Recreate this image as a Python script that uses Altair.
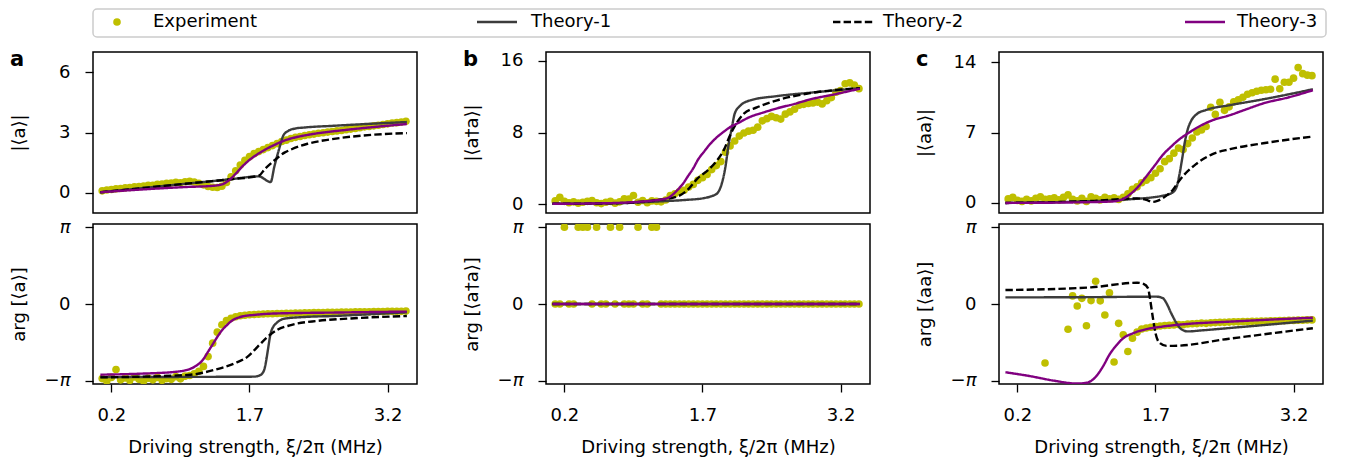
import math
import altair as alt
import pandas as pd

PI = math.pi

# ---------------- data ----------------
SERIES = ["Experiment", "Theory-1", "Theory-2", "Theory-3"]
COLORS = ["#bfbf00", "#3c3c3c", "#000000", "#800080"]
DASHES = [[1, 0], [1, 0], [7.4, 3.2], [1, 0]]

EXP_X = [0.10, 0.15, 0.20, 0.25, 0.30, 0.35, 0.40, 0.45, 0.50, 0.55,
         0.60, 0.65, 0.70, 0.75, 0.80, 0.85, 0.90, 0.95, 1.00, 1.05,
         1.10, 1.15, 1.20, 1.25, 1.30, 1.35, 1.40, 1.45, 1.50, 1.55,
         1.60, 1.65, 1.70, 1.75, 1.80, 1.85, 1.90, 1.95, 2.00, 2.05,
         2.10, 2.15, 2.20, 2.25, 2.30, 2.35, 2.40, 2.45, 2.50, 2.55,
         2.60, 2.65, 2.70, 2.75, 2.80, 2.85, 2.90, 2.95, 3.00, 3.05,
         3.10, 3.15, 3.20, 3.25, 3.30, 3.35, 3.40]

# panel a : |<a>| and arg[<a>]
A_AMP_EXP = [0.10, 0.14, 0.17, 0.20, 0.22, 0.25, 0.27, 0.30, 0.31, 0.34,
             0.37, 0.38, 0.42, 0.44, 0.47, 0.49, 0.52, 0.50, 0.55, 0.57,
             0.54, 0.48, 0.40, 0.32, 0.28, 0.27, 0.33, 0.52, 0.80, 1.10,
             1.38, 1.62, 1.80, 1.95, 2.05, 2.15, 2.25, 2.35, 2.45, 2.55,
             2.62, 2.70, 2.76, 2.80, 2.85, 2.89, 2.92, 2.96, 2.99, 3.02,
             3.05, 3.08, 3.10, 3.14, 3.17, 3.20, 3.24, 3.28, 3.30, 3.33,
             3.36, 3.40, 3.43, 3.47, 3.49, 3.52, 3.56]
A_PH_EXP = [-3.05, -3.15, -3.00, -2.68, -3.10, -3.02, -3.12, -2.98, -3.08, -3.15,
            -3.03, -3.10, -3.00, -3.12, -3.05, -3.08, -2.97, -3.06, -2.95, -2.92,
            -2.85, -2.75, -2.55, -2.15, -1.60, -1.15, -0.85, -0.68, -0.58, -0.52,
            -0.48, -0.46, -0.44, -0.43, -0.42, -0.41, -0.40, -0.40, -0.39, -0.39,
            -0.38, -0.38, -0.37, -0.37, -0.36, -0.36, -0.35, -0.35, -0.35, -0.34,
            -0.34, -0.34, -0.33, -0.33, -0.33, -0.32, -0.32, -0.32, -0.32, -0.31,
            -0.31, -0.31, -0.30, -0.30, -0.30, -0.30, -0.29]

A_AMP_T1_X = [0.08, 0.5, 1.0, 1.5, 1.8, 1.93, 1.97, 2.02, 2.07, 2.12, 2.2, 2.3, 2.6, 3.0, 3.41]
A_AMP_T1_Y = [0.03, 0.22, 0.45, 0.68, 0.82, 0.54, 1.30, 2.15, 2.87, 3.08, 3.20, 3.25, 3.33, 3.43, 3.52]
A_AMP_T2_X = [0.08, 1.0, 1.5, 1.8, 1.87, 1.98, 2.08, 2.15, 2.33, 2.5, 2.69, 3.05, 3.41]
A_AMP_T2_Y = [0.03, 0.45, 0.68, 0.85, 1.2, 1.65, 2.0, 2.15, 2.44, 2.6, 2.73, 2.89, 2.97]
A_AMP_T3_X = [0.08, 0.5, 1.0, 1.3, 1.4, 1.47, 1.55, 1.62, 1.69, 1.78, 1.87, 1.97, 2.08, 2.2, 2.33, 2.5, 2.69, 3.0, 3.41]
A_AMP_T3_Y = [0.03, 0.16, 0.29, 0.35, 0.42, 0.6, 0.95, 1.3, 1.6, 1.9, 2.15, 2.38, 2.6, 2.76, 2.88, 3.0, 3.1, 3.25, 3.42]

A_PH_T1_X = [0.08, 1.0, 1.75, 1.82, 1.86, 1.88, 1.90, 1.93, 1.96, 1.99, 2.08, 2.3, 2.62, 3.0, 3.41]
A_PH_T1_Y = [-2.99, -2.98, -2.97, -2.90, -2.69, -2.35, -1.88, -1.20, -0.92, -0.79, -0.60, -0.53, -0.49, -0.42, -0.34]
A_PH_T2_X = [0.08, 1.03, 1.32, 1.54, 1.68, 1.79, 1.9, 2.0, 2.15, 2.44, 2.8, 3.41]
A_PH_T2_Y = [-3.0, -2.9, -2.69, -2.42, -2.15, -1.74, -1.33, -1.06, -0.86, -0.69, -0.59, -0.49]
A_PH_T3_X = [0.08, 0.5, 0.9, 1.05, 1.13, 1.19, 1.25, 1.30, 1.35, 1.40, 1.45, 1.51, 1.61, 1.77, 1.9, 2.2, 2.62, 3.0, 3.41]
A_PH_T3_Y = [-2.89, -2.85, -2.77, -2.66, -2.5, -2.3, -1.95, -1.65, -1.35, -1.08, -0.88, -0.68, -0.52, -0.44, -0.4, -0.37, -0.35, -0.33, -0.31]

# panel b : |<a†a>| and arg[<a†a>]
B_AMP_EXP = [0.35, 0.75, 0.30, 0.15, 0.25, 0.10, 0.20, 0.30, 0.40, 0.15,
             0.05, 0.20, 0.30, 0.10, 0.25, 0.60, 0.55, 0.95, 0.20, 0.40,
             0.15, 0.35, 0.30, 0.25, 0.45, 0.95, 1.15, 1.40, 1.55, 1.90,
             2.20, 2.65, 2.95, 3.30, 3.85, 4.30, 4.75, 5.80, 6.50, 7.05,
             7.60, 7.95, 8.15, 8.25, 8.60, 9.30, 9.55, 9.80, 9.65, 9.50,
             10.05, 10.30, 10.60, 11.05, 11.15, 11.25, 11.30, 11.40, 11.20, 11.55,
             11.90, 12.50, 12.70, 13.45, 13.55, 13.30, 12.90]
B_PH_EXP = [0, 0, PI, 0, 0, PI, PI, PI, 0, PI,
            0, 0, PI, 0, PI, 0, 0, 0, PI, 0,
            0, PI, PI, 0, 0, 0, 0, 0, 0, 0,
            0, 0, 0, 0, 0, 0, 0, 0, 0, 0,
            0, 0, 0, 0, 0, 0, 0, 0, 0, 0,
            0, 0, 0, 0, 0, 0, 0, 0, 0, 0,
            0, 0, 0, 0, 0, 0, 0]

B_AMP_T1_X = [0.07, 0.8, 1.24, 1.5, 1.72, 1.79, 1.86, 1.91, 1.95, 1.98, 2.02, 2.05, 2.11, 2.22, 2.51, 2.87, 3.41]
B_AMP_T1_Y = [0.03, 0.1, 0.3, 0.45, 0.67, 0.85, 1.2, 2.3, 4.2, 6.4, 8.6, 10.1, 11.0, 11.6, 12.07, 12.45, 12.95]
B_AMP_T2_X = [0.07, 0.8, 1.17, 1.43, 1.54, 1.65, 1.76, 1.86, 1.93, 2.0, 2.08, 2.15, 2.29, 2.51, 2.87, 3.41]
B_AMP_T2_Y = [0.03, 0.1, 0.4, 0.85, 1.6, 2.9, 3.8, 4.9, 6.0, 7.7, 9.2, 10.1, 10.8, 11.6, 12.4, 12.95]
B_AMP_T3_X = [0.07, 0.6, 1.0, 1.17, 1.32, 1.43, 1.49, 1.54, 1.6, 1.65, 1.72, 1.79, 1.86, 1.93, 2.0, 2.08, 2.22, 2.35, 2.51, 2.7, 2.87, 3.15, 3.41]
B_AMP_T3_Y = [0.03, 0.08, 0.25, 0.4, 0.67, 1.59, 2.3, 3.08, 4.0, 4.94, 5.9, 6.79, 7.5, 8.08, 8.6, 9.02, 9.76, 10.2, 10.7, 11.2, 11.7, 12.3, 12.9]

B_PH_T_X = [0.07, 3.41]
B_PH_T_Y = [0.0, 0.0]

# panel c : |<aa>| and arg[<aa>]
C_AMP_EXP = [0.40, 0.55, 0.25, 0.15, 0.35, 0.20, 0.45, 0.60, 0.35, 0.40,
             0.50, 0.30, 0.55, 0.80, 0.35, 0.20, 0.45, 0.15, 0.60, 0.45,
             0.30, 0.55, 0.40, 0.50, 0.35, 0.55, 0.90, 1.35, 1.60, 2.00,
             2.25, 2.50, 2.95, 3.40, 4.10, 4.40, 4.95, 5.45, 5.30, 5.90,
             6.45, 7.05, 7.25, 7.60, 9.50, 8.80, 10.00, 9.20, 9.55, 10.05,
             10.25, 10.50, 10.80, 10.95, 11.10, 11.20, 11.25, 11.30, 12.30, 11.35,
             12.00, 12.00, 12.40, 13.45, 12.85, 12.70, 12.65]
C_PH_EXP = [None, None, None, None, None, None, None, None, -2.41, None,
            None, None, None, -1.03, 0.33, -0.08, 0.23, -0.89, 0.14, 0.93,
            0.13, -0.45, 0.46, -2.37, -0.79, -1.26, -1.94, -1.40, -1.15, -1.02,
            -0.98, -0.95, -0.92, -0.90, -0.88, -0.87, -0.86, -0.84, -0.85, -0.82,
            -0.81, -0.80, -0.78, -0.79, -0.77, -0.76, -0.75, -0.75, -0.74, -0.73,
            -0.73, -0.72, -0.72, -0.71, -0.71, -0.70, -0.70, -0.69, -0.69, -0.68,
            -0.68, -0.67, -0.67, -0.66, -0.66, -0.65, -0.65]

C_AMP_T1_X = [0.07, 0.8, 1.4, 1.78, 1.88, 1.93, 1.96, 1.99, 2.02, 2.05, 2.09, 2.15, 2.25, 2.51, 2.87, 3.15, 3.41]
C_AMP_T1_Y = [0.0, 0.12, 0.35, 0.72, 1.0, 1.6, 2.8, 4.4, 6.1, 7.3, 8.2, 8.84, 9.24, 9.72, 10.3, 10.8, 11.3]
C_AMP_T2_X = [0.07, 1.0, 1.5, 1.6, 1.67, 1.72, 1.78, 1.89, 1.96, 2.14, 2.32, 2.51, 2.87, 3.41]
C_AMP_T2_Y = [0.0, 0.2, 0.45, 0.3, 0.1, 0.2, 0.49, 1.32, 2.24, 3.86, 4.85, 5.34, 5.93, 6.6]
C_AMP_T3_X = [0.07, 0.8, 1.24, 1.35, 1.42, 1.51, 1.6, 1.69, 1.78, 1.87, 1.96, 2.05, 2.14, 2.3, 2.51, 2.7, 2.87, 3.15, 3.41]
C_AMP_T3_Y = [0.0, 0.05, 0.15, 0.4, 0.82, 1.6, 2.63, 3.7, 4.78, 5.6, 6.33, 6.9, 7.42, 8.15, 8.73, 9.35, 9.89, 10.5, 11.2]

C_PH_T1_X = [0.07, 1.0, 1.71, 1.78, 1.82, 1.87, 1.93, 1.98, 2.05, 2.2, 2.51, 3.0, 3.41]
C_PH_T1_Y = [0.27, 0.28, 0.30, 0.24, 0.03, -0.37, -0.79, -1.03, -1.12, -1.08, -0.98, -0.82, -0.68]
C_PH_T2_X = [0.07, 1.0, 1.5, 1.57, 1.62, 1.64, 1.67, 1.70, 1.74, 1.82, 1.89, 2.5, 3.0, 3.41]
C_PH_T2_Y = [0.57, 0.68, 0.87, 0.82, 0.64, 0.23, -0.52, -1.19, -1.57, -1.71, -1.71, -1.42, -1.18, -0.99]
C_PH_T3_X = [0.07, 0.34, 0.59, 0.85, 0.95, 1.04, 1.13, 1.2, 1.28, 1.35, 1.46, 1.6, 1.78, 2.0, 2.51, 3.05, 3.41]
C_PH_T3_Y = [-2.79, -2.95, -3.13, -3.25, -3.22, -3.02, -2.55, -2.07, -1.67, -1.4, -1.19, -1.03, -0.92, -0.83, -0.72, -0.62, -0.56]

X_TICKS = [0.2, 1.7, 3.2]
X_TITLE = "Driving strength, ξ/2π (MHz)"
PANEL_LETTERS = ["a", "b", "c"]

# ---------------- style / layout ----------------
FONT = "DejaVu Sans"
FS = 18
W, H_TOP, H_BOT = 324, 161, 160
X_DOMAIN = [0.0, 3.52]
PHASE_DOMAIN = [-3.27, 3.27]
TITLE_X = -65
LETTER_DX, LETTER_DY = -83, 14
MARK_SIZE = 58
LINE_W = 2.4

LEG_W, LEG_H = 1233, 28
LEG_HANDLE0 = [4, 384, 740, 1092]
LEG_HANDLE1 = [44, 424, 780, 1132]
LEG_TEXT_X = [60, 438, 790, 1144]


def make_df(exp_y, curves):
    rows = []
    for xv, yv in zip(EXP_X, exp_y):
        if yv is not None:
            rows.append({"x": xv, "y": yv, "series": "Experiment"})
    for name, xs, ys in curves:
        for xv, yv in zip(xs, ys):
            rows.append({"x": xv, "y": yv, "series": name})
    return pd.DataFrame(rows)


def panel(exp_y, curves, ydomain, yticks, ytitle, bottom, letter=None, phase=False):
    df = make_df(exp_y, curves)
    if bottom:
        xaxis = alt.Axis(values=X_TICKS, format=".1f", title=X_TITLE,
                         labelPadding=14, titlePadding=14)
    else:
        xaxis = None
    x = alt.X("x:Q", scale=alt.Scale(domain=X_DOMAIN, nice=False, zero=False), axis=xaxis)
    ax = dict(values=yticks, title=ytitle, titleX=TITLE_X, labelPadding=15)
    if phase:
        ax["labelExpr"] = "datum.value < -1 ? '−π' : (datum.value > 1 ? 'π' : '0')"
        ax["labelFontStyle"] = {"condition": {"test": "abs(datum.value) > 1", "value": "italic"},
                                "value": "normal"}
    y = alt.Y("y:Q", scale=alt.Scale(domain=ydomain, nice=False, zero=False),
              axis=alt.Axis(**ax))
    base = alt.Chart(df)
    pts = base.transform_filter(alt.datum.series == "Experiment").mark_circle(
        size=MARK_SIZE, opacity=1, color=COLORS[0], clip=True).encode(x=x, y=y)
    lines = base.transform_filter(alt.datum.series != "Experiment").mark_line(
        strokeWidth=LINE_W, clip=True, interpolate="monotone").encode(
        x=x, y=y,
        color=alt.Color("series:N", scale=alt.Scale(domain=SERIES, range=COLORS), legend=None),
        strokeDash=alt.StrokeDash("series:N", scale=alt.Scale(domain=SERIES, range=DASHES), legend=None),
    )
    layers = [pts, lines]
    if letter:
        lab = alt.Chart(pd.DataFrame({"t": [letter]})).mark_text(
            align="left", baseline="alphabetic", fontSize=21, fontWeight="bold",
            font=FONT, color="black").encode(
            x=alt.value(LETTER_DX), y=alt.value(LETTER_DY), text="t:N")
        layers.append(lab)
    return alt.layer(*layers).properties(width=W, height=H_BOT if bottom else H_TOP)


AMP_A = [("Theory-1", A_AMP_T1_X, A_AMP_T1_Y), ("Theory-2", A_AMP_T2_X, A_AMP_T2_Y), ("Theory-3", A_AMP_T3_X, A_AMP_T3_Y)]
PH_A = [("Theory-1", A_PH_T1_X, A_PH_T1_Y), ("Theory-2", A_PH_T2_X, A_PH_T2_Y), ("Theory-3", A_PH_T3_X, A_PH_T3_Y)]
AMP_B = [("Theory-1", B_AMP_T1_X, B_AMP_T1_Y), ("Theory-2", B_AMP_T2_X, B_AMP_T2_Y), ("Theory-3", B_AMP_T3_X, B_AMP_T3_Y)]
PH_B = [("Theory-1", B_PH_T_X, B_PH_T_Y), ("Theory-2", B_PH_T_X, B_PH_T_Y), ("Theory-3", B_PH_T_X, B_PH_T_Y)]
AMP_C = [("Theory-1", C_AMP_T1_X, C_AMP_T1_Y), ("Theory-2", C_AMP_T2_X, C_AMP_T2_Y), ("Theory-3", C_AMP_T3_X, C_AMP_T3_Y)]
PH_C = [("Theory-1", C_PH_T1_X, C_PH_T1_Y), ("Theory-2", C_PH_T2_X, C_PH_T2_Y), ("Theory-3", C_PH_T3_X, C_PH_T3_Y)]

PH_TICKS = [-PI, 0, PI]

top_a = panel(A_AMP_EXP, AMP_A, [-1, 7], [0, 3, 6], "|⟨a⟩|", False, PANEL_LETTERS[0])
top_b = panel(B_AMP_EXP, AMP_B, [-1, 17], [0, 8, 16], "|⟨a†a⟩|", False, PANEL_LETTERS[1])
top_c = panel(C_AMP_EXP, AMP_C, [-1, 15], [0, 7, 14], "|⟨aa⟩|", False, PANEL_LETTERS[2])
bot_a = panel(A_PH_EXP, PH_A, PHASE_DOMAIN, PH_TICKS, "arg [⟨a⟩]", True, phase=True)
bot_b = panel(B_PH_EXP, PH_B, PHASE_DOMAIN, PH_TICKS, "arg [⟨a†a⟩]", True, phase=True)
bot_c = panel(C_PH_EXP, PH_C, PHASE_DOMAIN, PH_TICKS, "arg [⟨aa⟩]", True, phase=True)

grid = alt.concat(top_a, top_b, top_c, bot_a, bot_b, bot_c, columns=3,
                  spacing=alt.RowColnumber(row=11, column=129), bounds="flush")

# ---------------- legend (key) ----------------
leg_df = pd.DataFrame({
    "series": SERIES,
    "h0": LEG_HANDLE0,
    "h1": LEG_HANDLE1,
    "tx": LEG_TEXT_X,
})
leg_df["hc"] = (leg_df["h0"] + leg_df["h1"]) / 2
leg_base = alt.Chart(leg_df)
leg_pt = leg_base.transform_filter(alt.datum.series == "Experiment").mark_circle(
    size=MARK_SIZE, opacity=1, color=COLORS[0]).encode(
    x=alt.X("hc:Q", scale=None, axis=None), y=alt.value(LEG_H / 2 - 1))
leg_ln = leg_base.transform_filter(alt.datum.series != "Experiment").mark_rule(
    strokeWidth=LINE_W + 0.2).encode(
    x=alt.X("h0:Q", scale=None, axis=None), x2="h1:Q", y=alt.value(LEG_H / 2 - 1),
    color=alt.Color("series:N", scale=alt.Scale(domain=SERIES, range=COLORS), legend=None),
    strokeDash=alt.StrokeDash("series:N", scale=alt.Scale(domain=SERIES, range=DASHES), legend=None))
leg_tx = leg_base.mark_text(align="left", baseline="middle", fontSize=FS, font=FONT,
                            color="black").encode(
    x=alt.X("tx:Q", scale=None, axis=None), y=alt.value(LEG_H / 2 - 1), text="series:N")
legend = alt.layer(leg_pt, leg_ln, leg_tx).properties(
    width=LEG_W, height=LEG_H,
    view=alt.ViewBackground(stroke="#cccccc", strokeWidth=1.5, cornerRadius=4))

chart = alt.vconcat(legend, grid, spacing=10).properties(
    padding={"left": 1, "top": 0, "right": 2, "bottom": 2}
).configure(font=FONT).configure_view(
    stroke="black", strokeWidth=1.5
).configure_axis(
    domain=False, grid=False, tickColor="black", tickWidth=1.3, tickSize=8,
    labelColor="black", labelFontSize=FS, labelFont=FONT,
    titleFont=FONT, titleFontSize=FS, titleFontWeight="normal", titleColor="black"
)

chart.save("out.html", embed_options={"renderer": "svg", "actions": False})
